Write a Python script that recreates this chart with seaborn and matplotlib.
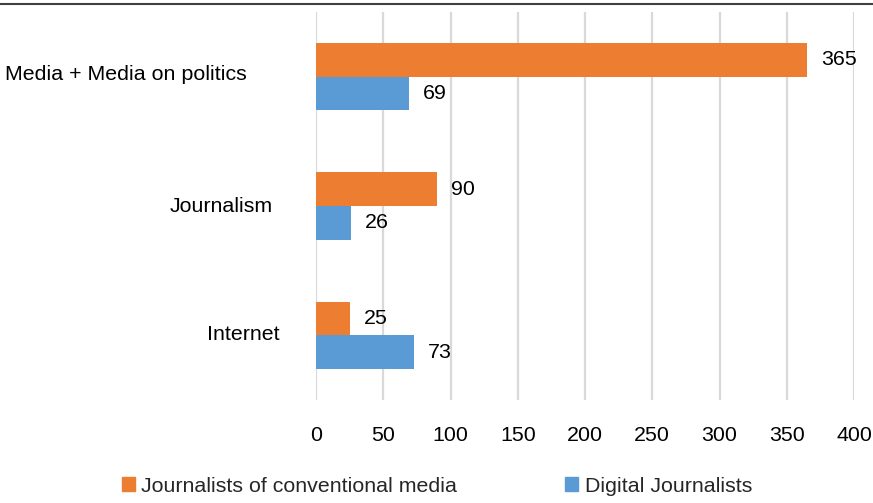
import matplotlib
matplotlib.use("Agg")
import matplotlib.pyplot as plt
import seaborn as sns
import pandas as pd
from matplotlib.lines import Line2D

categories = ["Media + Media on politics", "Journalism", "Internet"]
series_names = ["Journalists of conventional media", "Digital Journalists"]
conventional = [365, 90, 25]
digital = [69, 26, 73]
x_ticks = [0, 50, 100, 150, 200, 250, 300, 350, 400]

colors = ["#ED7D31", "#5B9BD5"]
FS = 15.4

df = pd.DataFrame({
    "category": categories * 2,
    "series": [series_names[0]] * 3 + [series_names[1]] * 3,
    "value": conventional + digital,
})

sns.set_theme(style="white")
plt.rcParams["font.family"] = ["Liberation Sans", "DejaVu Sans"]

fig = plt.figure(figsize=(8.73, 5.03), dpi=100)
ax = fig.add_axes([316/873, 1 - 400/503, (854-316)/873, (400-12)/503])

sns.barplot(data=df, y="category", x="value", hue="series", order=categories,
            hue_order=series_names, palette=colors, orient="h", width=0.52,
            ax=ax, legend=True, saturation=1, linewidth=0)

ax.set_xlim(0, 400)
ax.set_ylim(2.5, -0.5)
ax.set_xticks(x_ticks)
ax.set_xticklabels([str(t) for t in x_ticks], fontsize=FS, color="#000000")
ax.tick_params(axis="x", length=0, pad=18.5)
ax.set_yticks([])
ax.set_xlabel("")
ax.set_ylabel("")
ax.grid(axis="x", color="#D9D9D9", linewidth=1.6)
ax.set_axisbelow(True)
for s in ax.spines.values():
    s.set_visible(False)

# value labels
for cont in ax.containers:
    ax.bar_label(cont, labels=[f"{int(v)}" for v in cont.datavalues],
                 padding=10, fontsize=FS, color="#000000")

# category labels (positioned as in reference)
label_right = [247, 273, 280]
label_y = [75, 206, 335]
for name, xr, yc in zip(categories, label_right, label_y):
    fig.text(xr/873, 1 - yc/503, name, ha="right", va="center", fontsize=FS, color="#000000")

# legend
handles = [plt.Rectangle((0, 0), 1, 1, color=c) for c in colors]
leg = fig.legend(handles, series_names, loc="center", bbox_to_anchor=(437/873, 1 - 486/503),
                 ncol=2, frameon=False, fontsize=FS, handlelength=0.6, handleheight=0.6,
                 handletextpad=0.3, columnspacing=5.05)
if ax.get_legend() is not None:
    ax.get_legend().remove()

# top rule
fig.add_artist(Line2D([0, 1], [1 - 4/503, 1 - 4/503], color="#404040", linewidth=1.5,
                      transform=fig.transFigure))

fig.savefig("out.png", dpi=100)
